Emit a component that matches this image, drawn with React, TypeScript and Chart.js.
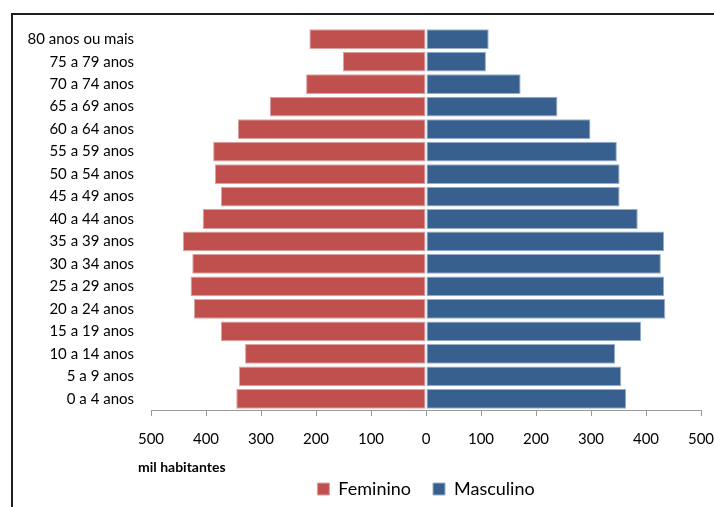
import React, { useEffect, useRef } from 'react';
import { Chart, registerables } from 'chart.js';

Chart.register(...registerables);

const ageGroups = [
  '80 anos ou mais',
  '75 a 79 anos',
  '70 a 74 anos',
  '65 a 69 anos',
  '60 a 64 anos',
  '55 a 59 anos',
  '50 a 54 anos',
  '45 a 49 anos',
  '40 a 44 anos',
  '35 a 39 anos',
  '30 a 34 anos',
  '25 a 29 anos',
  '20 a 24 anos',
  '15 a 19 anos',
  '10 a 14 anos',
  '5 a 9 anos',
  '0 a 4 anos',
];

const feminino = [212, 151, 218, 284, 342, 387, 384, 373, 406, 442, 425, 428, 422, 373, 329, 340, 345];
const masculino = [114, 109, 172, 239, 299, 347, 352, 352, 385, 433, 427, 433, 435, 391, 344, 355, 364];

const xMin = -500;
const xMax = 500;
const xStep = 100;
const unitLabel = 'mil habitantes';
const seriesNames = ['Feminino', 'Masculino'];

const FONT = 'Lato, "Open Sans", sans-serif';

const unitPlugin = {
  id: 'unitLabel',
  afterDraw(chart: any) {
    const { ctx, chartArea } = chart;
    ctx.save();
    ctx.font = `bold 14px ${FONT}`;
    ctx.fillStyle = '#000';
    ctx.textAlign = 'left';
    ctx.textBaseline = 'middle';
    ctx.fillText(unitLabel, chartArea.left - 13, chartArea.bottom + 57);
    ctx.restore();
  },
};

const CANVAS_W = 701;
const CANVAS_H = 493;

export default function App() {
  const ref = useRef<HTMLCanvasElement | null>(null);

  useEffect(() => {
    if (!ref.current) return;
    const chart = new Chart(ref.current, {
      type: 'bar',
      data: {
        labels: ageGroups,
        datasets: [
          {
            label: seriesNames[0],
            data: feminino.map((v) => -v),
            backgroundColor: '#C0504D',
            borderColor: '#DDA3A1',
            borderWidth: 1,
            borderSkipped: false,
            barPercentage: 0.88,
            categoryPercentage: 1,
          },
          {
            label: seriesNames[1],
            data: masculino,
            backgroundColor: '#37608F',
            borderColor: '#98AFCB',
            borderWidth: 1,
            borderSkipped: false,
            barPercentage: 0.88,
            categoryPercentage: 1,
          },
        ],
      },
      options: {
        indexAxis: 'y',
        responsive: false,
        animation: false,
        layout: { padding: { top: 13, right: 13, left: 0, bottom: 0 } },
        scales: {
          x: {
            type: 'linear',
            min: xMin,
            max: xMax,
            stacked: true,
            ticks: {
              stepSize: xStep,
              padding: 14,
              color: '#000',
              font: { family: FONT, size: 15 },
              callback: (v: any) => String(Math.abs(Number(v))),
              maxRotation: 0,
            },
            grid: {
              drawOnChartArea: false,
              drawTicks: true,
              tickLength: 6,
              color: '#999',
            },
            border: { display: true, color: '#999', width: 1 },
            afterFit: (scale: any) => {
              scale.height = 48;
              scale.paddingLeft = 0;
              scale.paddingRight = 0;
              scale.paddingTop = 0;
              scale.paddingBottom = 0;
            },
          },
          y: {
            type: 'category',
            stacked: true,
            ticks: {
              padding: 17,
              color: '#000',
              font: { family: FONT, size: 15 },
              autoSkip: false,
            },
            grid: { display: false, drawTicks: false },
            border: { display: false },
            afterFit: (scale: any) => {
              scale.width = 138;
              scale.paddingLeft = 0;
              scale.paddingRight = 0;
              scale.paddingTop = 0;
              scale.paddingBottom = 0;
            },
          },
        },
        plugins: {
          legend: {
            position: 'bottom',
            fullSize: false,
            labels: {
              boxWidth: 12,
              boxHeight: 12,
              padding: 22,
              color: '#000',
              font: { family: FONT, size: 18 },
            },
          },
          tooltip: {
            callbacks: {
              label: (c: any) => `${c.dataset.label}: ${Math.abs(c.raw)}`,
            },
          },
        },
      },
      plugins: [unitPlugin],
    });
    return () => chart.destroy();
  }, []);

  return (
    <div style={{ position: 'absolute', left: 0, top: 0, width: 714, height: 507, overflow: 'hidden', background: '#fff' }}>
      <div
        style={{
          position: 'absolute',
          left: 11,
          top: 13,
          width: 760,
          height: 600,
          border: '2px solid #1e1e1e',
        }}
      >
        <canvas
          ref={ref}
          width={CANVAS_W}
          height={CANVAS_H}
          style={{ position: 'absolute', left: 0, top: 0, width: CANVAS_W, height: CANVAS_H }}
        />
      </div>
    </div>
  );
}
